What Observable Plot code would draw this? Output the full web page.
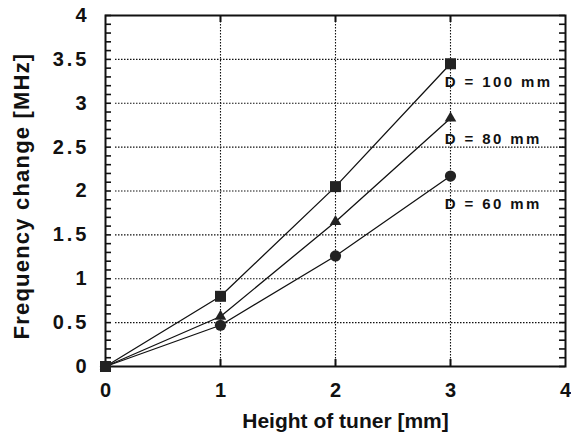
<!DOCTYPE html>
<html>
<head>
<meta charset="utf-8">
<script src="https://cdn.jsdelivr.net/npm/d3@7"></script>
<script src="https://cdn.jsdelivr.net/npm/@observablehq/plot@0.6"></script>
<style>
  body { margin: 0; background: #fff; }
  #chart svg { font-family: "Liberation Sans", Arial, Helvetica, sans-serif; }
</style>
</head>
<body>
<div id="chart"></div>
<script>
// ---- data ----
const heights = [0, 1, 2, 3];                 // Height of tuner [mm]
const seriesNames = ["D = 100 mm", "D = 80 mm", "D = 60 mm"];
const freq100 = [0, 0.80, 2.05, 3.45];        // Frequency change [MHz]
const freq80  = [0, 0.57, 1.65, 2.83];
const freq60  = [0, 0.47, 1.26, 2.17];
const seriesSymbols = ["square", "triangle", "circle"];
const labelX = [2.95, 2.95, 2.95];            // annotation anchors (data units)
const labelY = [3.24, 2.59, 1.85];
const xTicks = [0, 1, 2, 3, 4];
const yTicks = [0, 0.5, 1, 1.5, 2, 2.5, 3, 3.5, 4];
const yMinorTicks = d3.range(0, 41).map(i => i / 10);
const xTitle = "Height of tuner [mm]";
const yTitle = "Frequency change [MHz]";

const seriesValues = [freq100, freq80, freq60];
const data = [];
seriesNames.forEach((s, i) => heights.forEach((h, j) => data.push({series: s, h, f: seriesValues[i][j]})));
const labels = seriesNames.map((s, i) => ({text: s, x: labelX[i], y: labelY[i]}));
const innerX = xTicks.filter(d => d > 0 && d < 4);

const W = 571, H = 434, mL = 105, mR = 6, mT = 15, mB = 68;
const plotW = W - mL - mR, plotH = H - mT - mB;
const ink = "#111";
const dotsFor = (name, r) => Plot.dot(data.filter(d => d.series === name), {
  x: "h", y: "f", symbol: "series", r, fill: "#222", stroke: "none"
});

const chart = Plot.plot({
  width: W,
  height: H,
  marginLeft: mL,
  marginRight: mR,
  marginTop: mT,
  marginBottom: mB,
  x: {domain: [0, 4], axis: null},
  y: {domain: [0, 4], axis: null},
  symbol: {domain: seriesNames, range: seriesSymbols},
  style: {background: "#fff", color: ink, overflow: "visible"},
  marks: [
    // dotted grid
    Plot.gridY(yTicks.filter(d => d > 0 && d < 4), {stroke: ink, strokeOpacity: 1, strokeWidth: 1.1, strokeDasharray: "1.5,1.5", insetLeft: 10}),
    Plot.gridX(innerX, {stroke: ink, strokeOpacity: 1, strokeWidth: 1.1, strokeDasharray: "1.5,1.5"}),
    // inward ticks
    Plot.tickY(yMinorTicks, {y: d => d, insetRight: plotW - 6, stroke: ink, strokeWidth: 1.6}),
    Plot.tickY(yMinorTicks, {y: d => d, insetLeft: plotW - 6, stroke: ink, strokeWidth: 1.6}),
    Plot.tickX(innerX, {x: d => d, insetTop: plotH - 7, stroke: ink, strokeWidth: 2}),
    Plot.tickX(innerX, {x: d => d, insetBottom: plotH - 7, stroke: ink, strokeWidth: 2}),
    // tick labels
    Plot.axisY(yTicks, {anchor: "left", tickSize: 0, tickPadding: 16, tickFormat: d => String(d),
      fontSize: 20, fontWeight: "bold", label: null}),
    Plot.axisX(xTicks, {anchor: "bottom", tickSize: 0, tickPadding: 16, tickFormat: d => String(d),
      fontSize: 20, fontWeight: "bold", label: null}),
    // frame
    Plot.frame({stroke: ink, strokeWidth: 2}),
    // series lines
    Plot.line(data, {x: "h", y: "f", z: "series", stroke: ink, strokeWidth: 1.3}),
    dotsFor("D = 60 mm", 5.6),
    dotsFor("D = 80 mm", 4.3),
    dotsFor("D = 100 mm", 6.2),
    // annotations
    Plot.text(labels, {x: "x", y: "y", text: "text", textAnchor: "start", fontSize: 15, fontWeight: "bold", fill: ink}),
    // axis titles
    Plot.text([xTitle], {frameAnchor: "bottom", dx: 10, dy: 55, text: d => d, fontSize: 21, fontWeight: "bold",
      fill: ink, lineAnchor: "middle", textAnchor: "middle"}),
    Plot.text([yTitle], {frameAnchor: "left", dx: -84, dy: 5, rotate: -90, text: d => d, fontSize: 22,
      fontWeight: "bold", fill: ink, lineAnchor: "middle", textAnchor: "middle"})
  ]
});
document.getElementById("chart").appendChild(chart);

// letter spacing (the scanned original uses wide, spaced type)
const root = d3.select(chart);
root.selectAll('g[aria-label="y-axis tick label"] text').style("letter-spacing", "3px");
const textGroups = root.selectAll('g[aria-label="text"]').nodes();
if (textGroups[0]) d3.select(textGroups[0]).selectAll("text").style("letter-spacing", "2.4px");
if (textGroups[2]) d3.select(textGroups[2]).selectAll("text").style("letter-spacing", "1.2px");
</script>
</body>
</html>
